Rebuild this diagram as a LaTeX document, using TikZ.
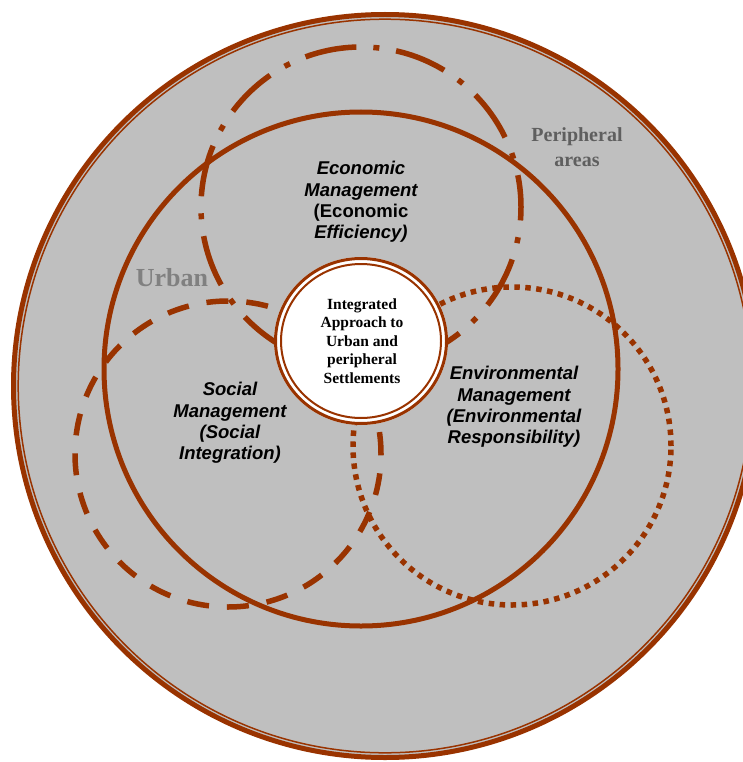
\documentclass[tikz,border=0pt]{standalone}
\usepackage{fontspec}
\setmainfont{Liberation Serif}
\newfontfamily\lblfont{Liberation Sans}
\definecolor{brn}{RGB}{153,51,0}
\definecolor{bgray}{RGB}{191,191,191}
\definecolor{darkgraytxt}{RGB}{95,95,95}
\definecolor{midgraytxt}{RGB}{128,128,128}
\begin{document}
\begin{tikzpicture}[x=1pt,y=-1pt,
  ringline/.style={draw=brn, line width=5pt},
  econline/.style={draw=brn, line width=5.5pt, dash pattern=on 52pt off 17pt on 6pt off 17pt, dash phase=20pt},
  socline/.style={draw=brn, line width=5.5pt, dash pattern=on 22pt off 18pt},
  envline/.style={draw=brn, line width=5.5pt, dash pattern=on 5.5pt off 5.5pt},
  mgmt/.style={font=\lblfont\bfseries\itshape\fontsize{18.5}{21.2}\selectfont, align=center, text=black, inner sep=0pt},
  core/.style={font=\bfseries\fontsize{15.5}{18.4}\selectfont, align=center, text=black, inner sep=0pt},
  zone/.style={font=\bfseries, align=center, inner sep=0pt}]
\useasboundingbox (0,0) rectangle (742,762);
% outer peripheral area
\fill[bgray] (385,386) circle (373pt);
\draw[brn, line width=5pt] (385,386) circle (371.5pt);
\draw[brn, line width=1.5pt] (385,386) circle (366.8pt);
% urban
\draw[ringline] (361,369) circle (257pt);
% economic, social, environmental
\draw[econline] (361,207) circle (160pt);
\draw[socline] (228,454) circle (153pt);
\draw[envline] (512,446) circle (159pt);
% central
\fill[white] (361,341) ellipse [x radius=87pt, y radius=84pt];
\draw[brn, line width=3pt] (361,341) ellipse [x radius=85.5pt, y radius=82.5pt];
\draw[brn, line width=2pt] (361,341) ellipse [x radius=80pt, y radius=77pt];
\node[core] (center) at (362,341) {Integrated\\Approach to\\Urban and\\peripheral\\Settlements};
% labels
\node[mgmt] (econ) at (361,202) {Economic\\Management\\{\normalfont\lblfont\bfseries(Economic}\\Efficiency)};
\node[mgmt] (soc) at (230,423) {Social\\Management\\(Social\\Integration)};
\node[mgmt] (env) at (514,407) {Environmental\\Management\\(Environmental\\Responsibility)};
\node[zone, text=darkgraytxt, font=\bfseries\fontsize{20}{25}\selectfont] (peri) at (577,147) {Peripheral\\areas};
\node[zone, text=midgraytxt, font=\bfseries\fontsize{26}{30}\selectfont] (urb) at (172,278) {Urban};
\end{tikzpicture}
\end{document}
